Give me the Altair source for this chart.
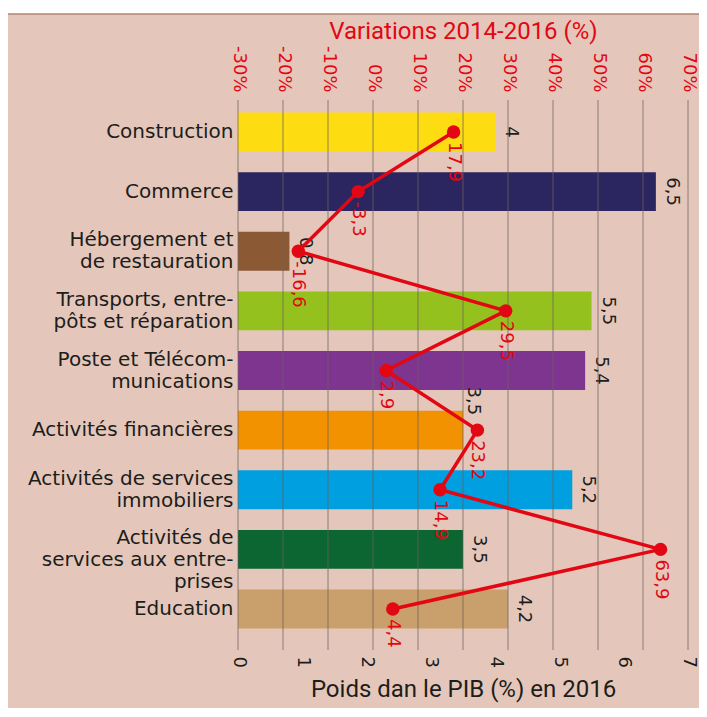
import altair as alt
import pandas as pd

categories = [
    "Construction",
    "Commerce",
    "Hébergement et|de restauration",
    "Transports, entre-|pôts et réparation",
    "Poste et Télécom-|munications",
    "Activités financières",
    "Activités de services|immobiliers",
    "Activités de|services aux entre-|prises",
    "Education",
]
weights = [4, 6.5, 0.8, 5.5, 5.4, 3.5, 5.2, 3.5, 4.2]
variations = [17.9, -3.3, -16.6, 29.5, 2.9, 23.2, 14.9, 63.9, 4.4]
bar_colors = ["#fddc12", "#2b2560", "#8b5a34", "#95c11f", "#7d3590",
              "#f39200", "#009fe0", "#0b6631", "#c9a06b"]
top_ticks = [-30, -20, -10, 0, 10, 20, 30, 40, 50, 60, 70]
bottom_ticks = [0, 1, 2, 3, 4, 5, 6, 7]

RED = "#e30613"
INK = "#1d1d1b"
BG = "#e4c7ba"
LABEL_FONT = "DejaVu Sans"
TITLE_FONT = "Roboto"


def fr(v):
    s = f"{v:g}"
    return s.replace(".", ",")


df = pd.DataFrame({
    "cat": categories,
    "idx": list(range(len(categories))),
    "weight": weights,
    "wlabel": [fr(v) for v in weights],
    "var": variations,
    "vlabel": [fr(v) for v in variations],
})
ticks_df = pd.DataFrame({"var": top_ticks})

y_enc = alt.Y(
    "cat:N",
    sort=categories,
    scale=alt.Scale(range=[12.5, 528.5], paddingInner=0.346, paddingOuter=0),
    axis=alt.Axis(
        title=None, domain=False, ticks=False, labelPadding=5,
        labelFont=LABEL_FONT, labelFontSize=20, labelColor=INK,
        labelLimit=0, labelLineHeight=22,
        labelBaseline={"condition": {"test": "indexof(datum.value, '|') >= 0",
                                     "value": "line-bottom"},
                       "value": "middle"},
        labelExpr="split(datum.label, '|')",
    ),
)

x_bottom = alt.X(
    "weight:Q",
    scale=alt.Scale(domain=[0, 7], nice=False, zero=True),
    axis=alt.Axis(
        orient="bottom", values=bottom_ticks, grid=False, domain=False,
        ticks=False, labelAngle=90, labelPadding=6,
        labelFont=LABEL_FONT, labelFontSize=18, labelColor=INK,
        title="Poids dan le PIB (%) en 2016", titleFont=TITLE_FONT,
        titleFontSize=24, titleFontWeight="normal", titleColor=INK,
        titlePadding=10,
    ),
)

top_axis = alt.Axis(
    orient="top", values=top_ticks, grid=False, domain=False,
    ticks=False, labelAngle=90, labelPadding=8,
    labelFont=LABEL_FONT, labelFontSize=18, labelColor=RED,
    labelExpr="datum.value + '%'",
    title="Variations 2014-2016 (%)", titleFont=TITLE_FONT,
    titleFontSize=24, titleFontWeight="normal", titleColor=RED,
    titlePadding=2,
)
top_scale = alt.Scale(domain=[-30, 70], nice=False, zero=False)
x_top = alt.X("var:Q", scale=top_scale, axis=top_axis)

base = alt.Chart(df)

bars = base.mark_bar().encode(
    y=y_enc,
    x=x_bottom,
    color=alt.Color("cat:N", scale=alt.Scale(domain=categories, range=bar_colors), legend=None),
)

bar_text = base.transform_filter(
    alt.datum.cat != "Activités financières"
).mark_text(
    angle=90, align="center", baseline="bottom", dy=-7,
    font=LABEL_FONT, fontSize=18, color=INK,
).encode(y=y_enc, x=x_bottom, text="wlabel:N")

bar_text_up = base.transform_filter(
    alt.datum.cat == "Activités financières"
).mark_text(
    angle=90, align="right", baseline="bottom", dx=-15, dy=-1,
    font=LABEL_FONT, fontSize=18, color=INK,
).encode(y=y_enc, x=x_bottom, text="wlabel:N")

deco_data = pd.DataFrame({"a": [0]})
top_white = alt.Chart(deco_data).mark_rect(color="white").encode(
    x=alt.value(-240), x2=alt.value(470), y=alt.value(-100), y2=alt.value(-86)
)
top_line = alt.Chart(deco_data).mark_rule(color="#b08472", strokeWidth=1.5).encode(
    x=alt.value(-230), x2=alt.value(470), y=alt.value(-86)
)

bottom_layer = alt.layer(top_white, top_line, bars, bar_text, bar_text_up)

grid = alt.Chart(ticks_df).mark_rule(color="#6f605b", strokeWidth=1, opacity=0.75).encode(
    x=x_top
)

line = base.mark_line(color=RED, strokeWidth=3.5).encode(
    y=y_enc, x=x_top, order=alt.Order("idx:Q")
)
points = base.mark_circle(color=RED, size=180, opacity=1).encode(y=y_enc, x=x_top)
pt_text = base.mark_text(
    angle=90, align="left", baseline="middle", dx=10,
    font=LABEL_FONT, fontSize=18, color=RED,
).encode(y=y_enc, x=x_top, text="vlabel:N")

top_layer = alt.layer(grid, line, points, pt_text)

chart = alt.layer(bottom_layer, top_layer).resolve_scale(x="independent").properties(
    width=450,
    height=550,
    autosize=alt.AutoSizeParams(type="none"),
    padding={"left": 230, "top": 92, "right": 11, "bottom": 58},
    background=BG,
).configure_view(stroke=None)

chart.save("out.html", embed_options={"renderer": "svg", "actions": False})
